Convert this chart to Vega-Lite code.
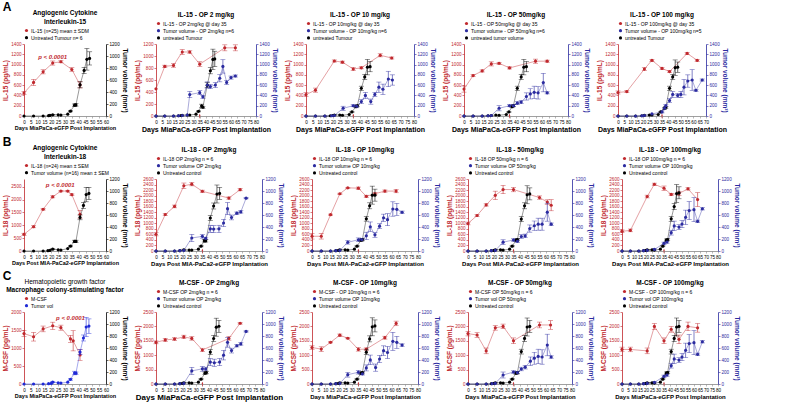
{
"$schema":"https://vega.github.io/schema/vega-lite/v6.json",
"padding":{"left":2,"right":2,"top":1,"bottom":1},
"background":"white",
"config":{
 "font":"Liberation Sans",
 "view":{"stroke":null},
 "concat":{"spacing":6},
 "axis":{"grid":false,"labelFontSize":4.6,"titleFontSize":6.5,"titleFontWeight":"bold","tickSize":2,"labelPadding":1,"titlePadding":2,"labelFlush":false,"labelOverlap":false,"domainWidth":0.8,"tickWidth":0.6},
 "axisLeft":{"domainColor":"#c0282d","tickColor":"#c0282d","labelColor":"#c0282d","titleColor":"#c0282d"},
 "axisRight":{"domainColor":"#2b2ba0","tickColor":"#2b2ba0","labelColor":"#2b2ba0","titleColor":"#2b2ba0"},
 "axisBottom":{"titleFontSize":6},
 "legend":{"orient":"top","direction":"vertical","labelFontSize":5,"symbolSize":10,"symbolType":"circle","symbolOpacity":1,"symbolStrokeWidth":0,"rowPadding":1.2,"padding":0,"offset":3,"labelLimit":200,"labelOffset":2},
 "title":{"fontSize":6.5,"fontWeight":"bold","offset":3,"subtitleFontSize":6.5,"subtitleFontWeight":"bold","subtitleColor":"#000","subtitlePadding":1}
},
"data":{"values":[
{"p":"A1","k":"c","d":0,"v":448,"e":30},{"p":"A1","k":"c","d":7,"v":653,"e":60},{"p":"A1","k":"c","d":14,"v":859,"e":40},{"p":"A1","k":"c","d":21,"v":1030,"e":40},{"p":"A1","k":"c","d":27,"v":1055,"e":20},{"p":"A1","k":"c","d":35,"v":905,"e":35},{"p":"A1","k":"c","d":41,"v":605,"e":60},
{"p":"A1","k":"u","d":0,"v":0},{"p":"A1","k":"u","d":7,"v":0},{"p":"A1","k":"u","d":14,"v":0},{"p":"A1","k":"u","d":18,"v":5},{"p":"A1","k":"u","d":19,"v":10},{"p":"A1","k":"u","d":21,"v":20,"e":5},{"p":"A1","k":"u","d":25,"v":20},{"p":"A1","k":"u","d":27,"v":15},{"p":"A1","k":"u","d":32,"v":30},{"p":"A1","k":"u","d":34,"v":80,"e":10},{"p":"A1","k":"u","d":37,"v":180,"e":20},{"p":"A1","k":"u","d":38,"v":185,"e":20},{"p":"A1","k":"u","d":41,"v":520,"e":50},{"p":"A1","k":"u","d":44,"v":760,"e":50},{"p":"A1","k":"u","d":46,"v":945,"e":180},{"p":"A1","k":"u","d":48,"v":960,"e":110},
{"p":"A1","k":"p","d":21,"v":1150,"lab":"p < 0.0001"},

{"p":"A2","k":"c","d":0,"v":453},{"p":"A2","k":"c","d":7,"v":827,"e":20},{"p":"A2","k":"c","d":14,"v":843,"e":30},{"p":"A2","k":"c","d":21,"v":1067,"e":40},{"p":"A2","k":"c","d":27,"v":1067,"e":20},{"p":"A2","k":"c","d":35,"v":864,"e":40},{"p":"A2","k":"c","d":55,"v":1136,"e":50},{"p":"A2","k":"c","d":63.5,"v":1136,"e":50},
{"p":"A2","k":"u","d":0,"v":0},{"p":"A2","k":"u","d":7,"v":0},{"p":"A2","k":"u","d":14,"v":0},{"p":"A2","k":"u","d":18,"v":5},{"p":"A2","k":"u","d":20,"v":10},{"p":"A2","k":"u","d":21,"v":15},{"p":"A2","k":"u","d":25,"v":20},{"p":"A2","k":"u","d":27,"v":20},{"p":"A2","k":"u","d":32,"v":35},{"p":"A2","k":"u","d":34,"v":90,"e":10},{"p":"A2","k":"u","d":36.5,"v":200,"e":30},{"p":"A2","k":"u","d":37.5,"v":170,"e":20},{"p":"A2","k":"u","d":41,"v":600,"e":50},{"p":"A2","k":"u","d":43.5,"v":880,"e":60},{"p":"A2","k":"u","d":45.5,"v":1100,"e":200},{"p":"A2","k":"u","d":47,"v":1110,"e":150},
{"p":"A2","k":"t","d":0,"v":0},{"p":"A2","k":"t","d":7,"v":0},{"p":"A2","k":"t","d":14,"v":0},{"p":"A2","k":"t","d":18,"v":5},{"p":"A2","k":"t","d":21,"v":10},{"p":"A2","k":"t","d":25,"v":20},{"p":"A2","k":"t","d":27,"v":417,"e":60},{"p":"A2","k":"t","d":35,"v":454,"e":40},{"p":"A2","k":"t","d":37.5,"v":373,"e":30},{"p":"A2","k":"t","d":41,"v":603,"e":60},{"p":"A2","k":"t","d":43.5,"v":572,"e":40},{"p":"A2","k":"t","d":47.5,"v":603,"e":50},{"p":"A2","k":"t","d":51,"v":734,"e":70},{"p":"A2","k":"t","d":53.5,"v":964,"e":130},{"p":"A2","k":"t","d":56.5,"v":653,"e":40},{"p":"A2","k":"t","d":60,"v":747,"e":30},{"p":"A2","k":"t","d":63.5,"v":778,"e":20},
{"p":"A2","k":"a","d":35,"v":0},

{"p":"A3","k":"c","d":0,"v":416,"e":40},{"p":"A3","k":"c","d":7,"v":503,"e":40},{"p":"A3","k":"c","d":21,"v":1070,"e":20},{"p":"A3","k":"c","d":27,"v":1047,"e":20},{"p":"A3","k":"c","d":35,"v":914,"e":30},{"p":"A3","k":"c","d":41,"v":937,"e":20},{"p":"A3","k":"c","d":55,"v":1180,"e":30},{"p":"A3","k":"c","d":63.5,"v":1128,"e":20},
{"p":"A3","k":"u","d":0,"v":0},{"p":"A3","k":"u","d":7,"v":0},{"p":"A3","k":"u","d":14,"v":0},{"p":"A3","k":"u","d":18,"v":5},{"p":"A3","k":"u","d":20,"v":10},{"p":"A3","k":"u","d":21,"v":20,"e":5},{"p":"A3","k":"u","d":25,"v":20},{"p":"A3","k":"u","d":27,"v":15},{"p":"A3","k":"u","d":32,"v":30},{"p":"A3","k":"u","d":34,"v":80,"e":10},{"p":"A3","k":"u","d":37,"v":180,"e":20},{"p":"A3","k":"u","d":38,"v":200,"e":20},{"p":"A3","k":"u","d":41,"v":540,"e":40},{"p":"A3","k":"u","d":43.5,"v":760,"e":50},{"p":"A3","k":"u","d":45.5,"v":950,"e":150},{"p":"A3","k":"u","d":47.5,"v":960,"e":100},
{"p":"A3","k":"t","d":0,"v":0},{"p":"A3","k":"t","d":7,"v":0},{"p":"A3","k":"t","d":14,"v":0},{"p":"A3","k":"t","d":19,"v":5},{"p":"A3","k":"t","d":21,"v":10},{"p":"A3","k":"t","d":27.5,"v":150,"e":40},{"p":"A3","k":"t","d":35,"v":200,"e":20},{"p":"A3","k":"t","d":37.5,"v":190,"e":20},{"p":"A3","k":"t","d":41,"v":280,"e":40},{"p":"A3","k":"t","d":44,"v":400,"e":60},{"p":"A3","k":"t","d":48,"v":280,"e":50},{"p":"A3","k":"t","d":51,"v":420,"e":40},{"p":"A3","k":"t","d":54,"v":560,"e":100},{"p":"A3","k":"t","d":57,"v":520,"e":100},{"p":"A3","k":"t","d":61,"v":720,"e":150},{"p":"A3","k":"t","d":64,"v":700,"e":100},
{"p":"A3","k":"a","d":35,"v":0},

{"p":"A4","k":"c","d":0,"v":524,"e":60},{"p":"A4","k":"c","d":7,"v":786,"e":20},{"p":"A4","k":"c","d":14,"v":876,"e":20},{"p":"A4","k":"c","d":21,"v":1013,"e":40},{"p":"A4","k":"c","d":27,"v":1025,"e":20},{"p":"A4","k":"c","d":35,"v":935,"e":20},{"p":"A4","k":"c","d":55,"v":1066,"e":40},{"p":"A4","k":"c","d":64,"v":1066,"e":20},
{"p":"A4","k":"u","d":0,"v":0},{"p":"A4","k":"u","d":7,"v":0},{"p":"A4","k":"u","d":14,"v":0},{"p":"A4","k":"u","d":18.5,"v":5},{"p":"A4","k":"u","d":21,"v":10},{"p":"A4","k":"u","d":24.5,"v":20},{"p":"A4","k":"u","d":27,"v":15},{"p":"A4","k":"u","d":32.5,"v":30},{"p":"A4","k":"u","d":34.5,"v":80,"e":10},{"p":"A4","k":"u","d":37,"v":180,"e":20},{"p":"A4","k":"u","d":38,"v":200,"e":20},{"p":"A4","k":"u","d":41,"v":540,"e":40},{"p":"A4","k":"u","d":44,"v":760,"e":50},{"p":"A4","k":"u","d":46,"v":950,"e":150},{"p":"A4","k":"u","d":48,"v":960,"e":100},
{"p":"A4","k":"t","d":0,"v":0},{"p":"A4","k":"t","d":7,"v":0},{"p":"A4","k":"t","d":14,"v":0},{"p":"A4","k":"t","d":18.5,"v":5},{"p":"A4","k":"t","d":21,"v":10},{"p":"A4","k":"t","d":27,"v":150,"e":50},{"p":"A4","k":"t","d":35,"v":200,"e":20},{"p":"A4","k":"t","d":38,"v":200,"e":20},{"p":"A4","k":"t","d":41,"v":250,"e":30},{"p":"A4","k":"t","d":44,"v":270,"e":30},{"p":"A4","k":"t","d":48,"v":380,"e":70},{"p":"A4","k":"t","d":51,"v":430,"e":100},{"p":"A4","k":"t","d":54,"v":460,"e":120},{"p":"A4","k":"t","d":57,"v":450,"e":120},{"p":"A4","k":"t","d":61,"v":650,"e":180},{"p":"A4","k":"t","d":64,"v":450,"e":20},
{"p":"A4","k":"a","d":35,"v":0},

{"p":"A5","k":"c","d":0,"v":457,"e":30},{"p":"A5","k":"c","d":7,"v":475,"e":20},{"p":"A5","k":"c","d":21,"v":913,"e":30},{"p":"A5","k":"c","d":27,"v":1083,"e":20},{"p":"A5","k":"c","d":35,"v":925,"e":20},{"p":"A5","k":"c","d":41,"v":864,"e":20},{"p":"A5","k":"c","d":55,"v":1217,"e":20},{"p":"A5","k":"c","d":63,"v":1083,"e":20},
{"p":"A5","k":"u","d":0,"v":0},{"p":"A5","k":"u","d":7,"v":0},{"p":"A5","k":"u","d":14,"v":0},{"p":"A5","k":"u","d":19,"v":5},{"p":"A5","k":"u","d":21,"v":15},{"p":"A5","k":"u","d":25,"v":20},{"p":"A5","k":"u","d":27,"v":20},{"p":"A5","k":"u","d":32,"v":30},{"p":"A5","k":"u","d":34,"v":80,"e":10},{"p":"A5","k":"u","d":37,"v":150,"e":20},{"p":"A5","k":"u","d":38,"v":170,"e":20},{"p":"A5","k":"u","d":41,"v":540,"e":40},{"p":"A5","k":"u","d":43.5,"v":760,"e":50},{"p":"A5","k":"u","d":45.5,"v":940,"e":150},{"p":"A5","k":"u","d":47.5,"v":950,"e":100},
{"p":"A5","k":"t","d":0,"v":0},{"p":"A5","k":"t","d":7,"v":0},{"p":"A5","k":"t","d":14,"v":0},{"p":"A5","k":"t","d":19,"v":5},{"p":"A5","k":"t","d":21,"v":10},{"p":"A5","k":"t","d":27,"v":40},{"p":"A5","k":"t","d":35,"v":80,"e":20},{"p":"A5","k":"t","d":37,"v":150},{"p":"A5","k":"t","d":38,"v":200,"e":20},{"p":"A5","k":"t","d":41,"v":300,"e":40},{"p":"A5","k":"t","d":43.5,"v":420,"e":60},{"p":"A5","k":"t","d":47.5,"v":400,"e":40},{"p":"A5","k":"t","d":50,"v":420,"e":60},{"p":"A5","k":"t","d":52.5,"v":560,"e":150},{"p":"A5","k":"t","d":55.5,"v":680,"e":120},{"p":"A5","k":"t","d":59,"v":700,"e":200},{"p":"A5","k":"t","d":62,"v":500,"e":20},{"p":"A5","k":"t","d":67,"v":700,"e":20},
{"p":"A5","k":"a","d":35,"v":0},

{"p":"B1","k":"c","d":0,"v":651,"e":40},{"p":"B1","k":"c","d":7,"v":943,"e":40},{"p":"B1","k":"c","d":14,"v":1622,"e":30},{"p":"B1","k":"c","d":21,"v":2107,"e":40},{"p":"B1","k":"c","d":27,"v":2330,"e":30},{"p":"B1","k":"c","d":32,"v":2330,"e":30},{"p":"B1","k":"c","d":35,"v":2190,"e":30},{"p":"B1","k":"c","d":41,"v":1428,"e":150},
{"p":"B1","k":"u","d":0,"v":0},{"p":"B1","k":"u","d":7,"v":0},{"p":"B1","k":"u","d":14,"v":0},{"p":"B1","k":"u","d":17.5,"v":5},{"p":"B1","k":"u","d":19,"v":10},{"p":"B1","k":"u","d":21,"v":30,"e":10},{"p":"B1","k":"u","d":25,"v":20},{"p":"B1","k":"u","d":27,"v":15},{"p":"B1","k":"u","d":32,"v":40},{"p":"B1","k":"u","d":34,"v":80,"e":10},{"p":"B1","k":"u","d":37,"v":160,"e":20},{"p":"B1","k":"u","d":38,"v":160,"e":20},{"p":"B1","k":"u","d":41,"v":560,"e":40},{"p":"B1","k":"u","d":43.5,"v":760,"e":50},{"p":"B1","k":"u","d":45.5,"v":940,"e":120},{"p":"B1","k":"u","d":47.5,"v":960,"e":100},
{"p":"B1","k":"p","d":26.5,"v":2560,"lab":"p < 0.0001"},

{"p":"B2","k":"c","d":0,"v":606,"e":60},{"p":"B2","k":"c","d":7,"v":1317,"e":30},{"p":"B2","k":"c","d":14,"v":1609,"e":50},{"p":"B2","k":"c","d":21,"v":2355,"e":100},{"p":"B2","k":"c","d":27,"v":2413,"e":60},{"p":"B2","k":"c","d":35,"v":2157,"e":40},{"p":"B2","k":"c","d":55,"v":1912,"e":40},{"p":"B2","k":"c","d":63.5,"v":2215,"e":40},
{"p":"B2","k":"u","d":0,"v":0},{"p":"B2","k":"u","d":7,"v":0},{"p":"B2","k":"u","d":14,"v":0},{"p":"B2","k":"u","d":18,"v":5},{"p":"B2","k":"u","d":21,"v":20,"e":10},{"p":"B2","k":"u","d":25,"v":15},{"p":"B2","k":"u","d":27,"v":15},{"p":"B2","k":"u","d":32,"v":30},{"p":"B2","k":"u","d":34,"v":80,"e":10},{"p":"B2","k":"u","d":36.5,"v":170,"e":20},{"p":"B2","k":"u","d":37.5,"v":170,"e":20},{"p":"B2","k":"u","d":41,"v":550,"e":40},{"p":"B2","k":"u","d":43.5,"v":750,"e":50},{"p":"B2","k":"u","d":46,"v":950,"e":150},{"p":"B2","k":"u","d":48,"v":960,"e":100},
{"p":"B2","k":"t","d":0,"v":0},{"p":"B2","k":"t","d":7,"v":0},{"p":"B2","k":"t","d":14,"v":0},{"p":"B2","k":"t","d":18,"v":5},{"p":"B2","k":"t","d":21,"v":10},{"p":"B2","k":"t","d":27,"v":217,"e":60},{"p":"B2","k":"t","d":35,"v":244,"e":30},{"p":"B2","k":"t","d":37.5,"v":210,"e":20},{"p":"B2","k":"t","d":41,"v":369,"e":60},{"p":"B2","k":"t","d":43.5,"v":365,"e":60},{"p":"B2","k":"t","d":47.5,"v":369,"e":60},{"p":"B2","k":"t","d":51,"v":467,"e":60},{"p":"B2","k":"t","d":54,"v":706,"e":100},{"p":"B2","k":"t","d":57,"v":559,"e":40},{"p":"B2","k":"t","d":61,"v":630,"e":20},{"p":"B2","k":"t","d":64,"v":652,"e":20},{"p":"B2","k":"t","d":68,"v":880,"e":10},
{"p":"B2","k":"a","d":35,"v":0},

{"p":"B3","k":"c","d":0,"v":532,"e":100},{"p":"B3","k":"c","d":7,"v":532,"e":100},{"p":"B3","k":"c","d":14,"v":1312,"e":20},{"p":"B3","k":"c","d":21,"v":2068,"e":20},{"p":"B3","k":"c","d":27,"v":2281,"e":20},{"p":"B3","k":"c","d":35,"v":2269,"e":40},{"p":"B3","k":"c","d":41,"v":1974,"e":40},{"p":"B3","k":"c","d":47.5,"v":2068,"e":40},{"p":"B3","k":"c","d":55,"v":2163,"e":40},{"p":"B3","k":"c","d":63.5,"v":2163,"e":60},
{"p":"B3","k":"u","d":0,"v":0},{"p":"B3","k":"u","d":7,"v":0},{"p":"B3","k":"u","d":14,"v":0},{"p":"B3","k":"u","d":18,"v":5},{"p":"B3","k":"u","d":20,"v":10},{"p":"B3","k":"u","d":21,"v":20,"e":5},{"p":"B3","k":"u","d":25,"v":20},{"p":"B3","k":"u","d":27,"v":15},{"p":"B3","k":"u","d":32,"v":30},{"p":"B3","k":"u","d":34,"v":80,"e":10},{"p":"B3","k":"u","d":37,"v":180,"e":20},{"p":"B3","k":"u","d":38,"v":190,"e":20},{"p":"B3","k":"u","d":41,"v":538,"e":40},{"p":"B3","k":"u","d":43.5,"v":753,"e":50},{"p":"B3","k":"u","d":45.5,"v":931,"e":150},{"p":"B3","k":"u","d":47.5,"v":931,"e":100},
{"p":"B3","k":"t","d":0,"v":0},{"p":"B3","k":"t","d":7,"v":0},{"p":"B3","k":"t","d":14,"v":0},{"p":"B3","k":"t","d":18,"v":5},{"p":"B3","k":"t","d":21,"v":10},{"p":"B3","k":"t","d":27,"v":145,"e":30},{"p":"B3","k":"t","d":35,"v":188,"e":30},{"p":"B3","k":"t","d":37.5,"v":190,"e":20},{"p":"B3","k":"t","d":41,"v":253,"e":60},{"p":"B3","k":"t","d":44,"v":404,"e":80},{"p":"B3","k":"t","d":47.5,"v":269,"e":40},{"p":"B3","k":"t","d":51,"v":414,"e":40},{"p":"B3","k":"t","d":54,"v":554,"e":60},{"p":"B3","k":"t","d":57,"v":522,"e":100},{"p":"B3","k":"t","d":61,"v":700,"e":120},{"p":"B3","k":"t","d":64,"v":694,"e":100},{"p":"B3","k":"t","d":68,"v":646,"e":20},
{"p":"B3","k":"a","d":35,"v":0},

{"p":"B4","k":"c","d":0,"v":994,"e":50},{"p":"B4","k":"c","d":7,"v":1283,"e":30},{"p":"B4","k":"c","d":14,"v":1664,"e":40},{"p":"B4","k":"c","d":21,"v":2011,"e":150},{"p":"B4","k":"c","d":27,"v":2219,"e":150},{"p":"B4","k":"c","d":35,"v":2219,"e":80},{"p":"B4","k":"c","d":55,"v":1930,"e":60},{"p":"B4","k":"c","d":61,"v":1768,"e":80},{"p":"B4","k":"c","d":64,"v":1652,"e":200},
{"p":"B4","k":"u","d":0,"v":0},{"p":"B4","k":"u","d":7,"v":0},{"p":"B4","k":"u","d":14,"v":0},{"p":"B4","k":"u","d":18,"v":5},{"p":"B4","k":"u","d":20,"v":10},{"p":"B4","k":"u","d":21,"v":20,"e":5},{"p":"B4","k":"u","d":25,"v":20},{"p":"B4","k":"u","d":27,"v":15},{"p":"B4","k":"u","d":32,"v":30},{"p":"B4","k":"u","d":34,"v":80,"e":10},{"p":"B4","k":"u","d":37,"v":180,"e":20},{"p":"B4","k":"u","d":38,"v":190,"e":20},{"p":"B4","k":"u","d":41,"v":532,"e":40},{"p":"B4","k":"u","d":43.5,"v":753,"e":50},{"p":"B4","k":"u","d":45.5,"v":937,"e":150},{"p":"B4","k":"u","d":47.5,"v":952,"e":100},
{"p":"B4","k":"t","d":0,"v":0},{"p":"B4","k":"t","d":7,"v":0},{"p":"B4","k":"t","d":14,"v":0},{"p":"B4","k":"t","d":18,"v":5},{"p":"B4","k":"t","d":21,"v":10},{"p":"B4","k":"t","d":27,"v":147,"e":40},{"p":"B4","k":"t","d":35,"v":184,"e":20},{"p":"B4","k":"t","d":38,"v":163,"e":20},{"p":"B4","k":"t","d":41,"v":242,"e":30},{"p":"B4","k":"t","d":44,"v":252,"e":30},{"p":"B4","k":"t","d":47.5,"v":374,"e":60},{"p":"B4","k":"t","d":51,"v":421,"e":80},{"p":"B4","k":"t","d":54,"v":447,"e":100},{"p":"B4","k":"t","d":57,"v":447,"e":100},{"p":"B4","k":"t","d":61,"v":647,"e":150},{"p":"B4","k":"t","d":64,"v":447,"e":20},
{"p":"B4","k":"a","d":35,"v":0},

{"p":"B5","k":"c","d":0,"v":711,"e":50},{"p":"B5","k":"c","d":7,"v":744,"e":50},{"p":"B5","k":"c","d":21,"v":1967,"e":50},{"p":"B5","k":"c","d":27,"v":2411,"e":40},{"p":"B5","k":"c","d":35,"v":2267,"e":80},{"p":"B5","k":"c","d":41,"v":2044,"e":40},{"p":"B5","k":"c","d":47.5,"v":2078,"e":80},{"p":"B5","k":"c","d":55,"v":2244,"e":40},{"p":"B5","k":"c","d":63,"v":1856,"e":250},
{"p":"B5","k":"u","d":0,"v":0},{"p":"B5","k":"u","d":7,"v":0},{"p":"B5","k":"u","d":14,"v":0},{"p":"B5","k":"u","d":18,"v":5},{"p":"B5","k":"u","d":20,"v":10},{"p":"B5","k":"u","d":21,"v":20,"e":5},{"p":"B5","k":"u","d":25,"v":20},{"p":"B5","k":"u","d":27,"v":15},{"p":"B5","k":"u","d":32,"v":30},{"p":"B5","k":"u","d":34,"v":80,"e":10},{"p":"B5","k":"u","d":37,"v":180,"e":20},{"p":"B5","k":"u","d":38,"v":190,"e":20},{"p":"B5","k":"u","d":41,"v":536,"e":40},{"p":"B5","k":"u","d":43.5,"v":740,"e":50},{"p":"B5","k":"u","d":45.5,"v":957,"e":150},{"p":"B5","k":"u","d":47.5,"v":970,"e":100},
{"p":"B5","k":"t","d":0,"v":0},{"p":"B5","k":"t","d":7,"v":0},{"p":"B5","k":"t","d":14,"v":0},{"p":"B5","k":"t","d":18,"v":5},{"p":"B5","k":"t","d":21,"v":10},{"p":"B5","k":"t","d":27,"v":26,"e":10},{"p":"B5","k":"t","d":35,"v":128,"e":20},{"p":"B5","k":"t","d":37.5,"v":150,"e":20},{"p":"B5","k":"t","d":41,"v":306,"e":40},{"p":"B5","k":"t","d":43.5,"v":418,"e":80},{"p":"B5","k":"t","d":47.5,"v":398,"e":40},{"p":"B5","k":"t","d":50,"v":449,"e":60},{"p":"B5","k":"t","d":53,"v":561,"e":120},{"p":"B5","k":"t","d":56,"v":673,"e":150},{"p":"B5","k":"t","d":60,"v":689,"e":200},{"p":"B5","k":"t","d":63,"v":495,"e":20},{"p":"B5","k":"t","d":67,"v":704,"e":20},
{"p":"B5","k":"a","d":35,"v":0},

{"p":"C1","k":"c","d":0,"v":1400,"e":80},{"p":"C1","k":"c","d":7,"v":1313,"e":120},{"p":"C1","k":"c","d":14,"v":1530,"e":80},{"p":"C1","k":"c","d":21,"v":1617,"e":100},{"p":"C1","k":"c","d":27,"v":1565,"e":70},{"p":"C1","k":"c","d":34,"v":1252,"e":100},{"p":"C1","k":"c","d":36,"v":1200,"e":280},{"p":"C1","k":"c","d":41,"v":809,"e":150},
{"p":"C1","k":"t","d":0,"v":0},{"p":"C1","k":"t","d":7,"v":0},{"p":"C1","k":"t","d":14,"v":0},{"p":"C1","k":"t","d":18,"v":5},{"p":"C1","k":"t","d":20,"v":10},{"p":"C1","k":"t","d":21,"v":31,"e":10},{"p":"C1","k":"t","d":25,"v":20},{"p":"C1","k":"t","d":27,"v":15},{"p":"C1","k":"t","d":32,"v":30},{"p":"C1","k":"t","d":34,"v":78,"e":15},{"p":"C1","k":"t","d":37,"v":183,"e":30},{"p":"C1","k":"t","d":38,"v":180,"e":20},{"p":"C1","k":"t","d":41,"v":532,"e":40},{"p":"C1","k":"t","d":43.5,"v":767,"e":50},{"p":"C1","k":"t","d":45.5,"v":950,"e":160},{"p":"C1","k":"t","d":47.5,"v":965,"e":120},
{"p":"C1","k":"p","d":34,"v":1830,"lab":"p < 0.0001"},

{"p":"C2","k":"c","d":0,"v":1445,"e":50},{"p":"C2","k":"c","d":7,"v":1530,"e":50},{"p":"C2","k":"c","d":14,"v":1561,"e":50},{"p":"C2","k":"c","d":21,"v":1635,"e":60},{"p":"C2","k":"c","d":27,"v":1582,"e":60},{"p":"C2","k":"c","d":35,"v":1181,"e":60},{"p":"C2","k":"c","d":55,"v":1582,"e":60},{"p":"C2","k":"c","d":63.5,"v":2110,"e":30},
{"p":"C2","k":"u","d":0,"v":0},{"p":"C2","k":"u","d":7,"v":0},{"p":"C2","k":"u","d":14,"v":0},{"p":"C2","k":"u","d":18,"v":5},{"p":"C2","k":"u","d":20,"v":10},{"p":"C2","k":"u","d":21,"v":20,"e":5},{"p":"C2","k":"u","d":25,"v":20},{"p":"C2","k":"u","d":27,"v":15},{"p":"C2","k":"u","d":32,"v":30},{"p":"C2","k":"u","d":34,"v":80,"e":10},{"p":"C2","k":"u","d":37,"v":180,"e":20},{"p":"C2","k":"u","d":38,"v":190,"e":20},{"p":"C2","k":"u","d":41,"v":532,"e":40},{"p":"C2","k":"u","d":43.5,"v":759,"e":50},{"p":"C2","k":"u","d":45.5,"v":947,"e":150},{"p":"C2","k":"u","d":47.5,"v":962,"e":100},
{"p":"C2","k":"t","d":0,"v":0},{"p":"C2","k":"t","d":7,"v":0},{"p":"C2","k":"t","d":14,"v":0},{"p":"C2","k":"t","d":18,"v":5},{"p":"C2","k":"t","d":21,"v":10},{"p":"C2","k":"t","d":27,"v":218,"e":60},{"p":"C2","k":"t","d":35,"v":253,"e":40},{"p":"C2","k":"t","d":37.5,"v":250,"e":30},{"p":"C2","k":"t","d":41,"v":365,"e":60},{"p":"C2","k":"t","d":44,"v":354,"e":60},{"p":"C2","k":"t","d":48,"v":365,"e":60},{"p":"C2","k":"t","d":51,"v":481,"e":80},{"p":"C2","k":"t","d":54,"v":694,"e":80},{"p":"C2","k":"t","d":57,"v":557,"e":40},{"p":"C2","k":"t","d":61,"v":638,"e":20},{"p":"C2","k":"t","d":64,"v":668,"e":20},{"p":"C2","k":"t","d":68,"v":876,"e":10},
{"p":"C2","k":"a","d":35,"v":0},

{"p":"C3","k":"c","d":0,"v":1266,"e":60},{"p":"C3","k":"c","d":7,"v":1212,"e":80},{"p":"C3","k":"c","d":14,"v":1448,"e":20},{"p":"C3","k":"c","d":21,"v":1695,"e":40},{"p":"C3","k":"c","d":27,"v":1588,"e":20},{"p":"C3","k":"c","d":35,"v":1202,"e":60},{"p":"C3","k":"c","d":41,"v":1212,"e":40},{"p":"C3","k":"c","d":55,"v":1609,"e":50},{"p":"C3","k":"c","d":63.5,"v":2103,"e":80},
{"p":"C3","k":"u","d":0,"v":0},{"p":"C3","k":"u","d":7,"v":0},{"p":"C3","k":"u","d":14,"v":0},{"p":"C3","k":"u","d":18,"v":5},{"p":"C3","k":"u","d":20,"v":10},{"p":"C3","k":"u","d":21,"v":20,"e":5},{"p":"C3","k":"u","d":25,"v":20},{"p":"C3","k":"u","d":27,"v":15},{"p":"C3","k":"u","d":32,"v":30},{"p":"C3","k":"u","d":34,"v":80,"e":10},{"p":"C3","k":"u","d":37,"v":180,"e":20},{"p":"C3","k":"u","d":38,"v":190,"e":20},{"p":"C3","k":"u","d":41,"v":530,"e":40},{"p":"C3","k":"u","d":43.5,"v":752,"e":50},{"p":"C3","k":"u","d":45.5,"v":953,"e":150},{"p":"C3","k":"u","d":47.5,"v":968,"e":100},
{"p":"C3","k":"t","d":0,"v":0},{"p":"C3","k":"t","d":7,"v":0},{"p":"C3","k":"t","d":14,"v":0},{"p":"C3","k":"t","d":18,"v":5},{"p":"C3","k":"t","d":21,"v":10},{"p":"C3","k":"t","d":27,"v":155,"e":40},{"p":"C3","k":"t","d":35,"v":196,"e":30},{"p":"C3","k":"t","d":38,"v":170,"e":20},{"p":"C3","k":"t","d":41,"v":268,"e":50},{"p":"C3","k":"t","d":44,"v":402,"e":80},{"p":"C3","k":"t","d":48,"v":273,"e":60},{"p":"C3","k":"t","d":51,"v":417,"e":60},{"p":"C3","k":"t","d":54,"v":556,"e":80},{"p":"C3","k":"t","d":57,"v":525,"e":100},{"p":"C3","k":"t","d":61,"v":711,"e":150},{"p":"C3","k":"t","d":64,"v":695,"e":100},{"p":"C3","k":"t","d":68,"v":649,"e":20},
{"p":"C3","k":"a","d":35,"v":0},

{"p":"C4","k":"c","d":0,"v":1750,"e":80},{"p":"C4","k":"c","d":7,"v":1700,"e":80},{"p":"C4","k":"c","d":14,"v":1150,"e":100},{"p":"C4","k":"c","d":21,"v":1950,"e":80},{"p":"C4","k":"c","d":27,"v":2000,"e":80},{"p":"C4","k":"c","d":35,"v":1500,"e":100},{"p":"C4","k":"c","d":55,"v":2050,"e":100},{"p":"C4","k":"c","d":63.5,"v":2050,"e":150},
{"p":"C4","k":"u","d":0,"v":0},{"p":"C4","k":"u","d":7,"v":0},{"p":"C4","k":"u","d":14,"v":0},{"p":"C4","k":"u","d":18,"v":5},{"p":"C4","k":"u","d":20,"v":10},{"p":"C4","k":"u","d":21,"v":20,"e":5},{"p":"C4","k":"u","d":25,"v":20},{"p":"C4","k":"u","d":27,"v":15},{"p":"C4","k":"u","d":32,"v":30},{"p":"C4","k":"u","d":34,"v":80,"e":10},{"p":"C4","k":"u","d":37,"v":180,"e":20},{"p":"C4","k":"u","d":38,"v":190,"e":20},{"p":"C4","k":"u","d":41,"v":540,"e":40},{"p":"C4","k":"u","d":43.5,"v":760,"e":50},{"p":"C4","k":"u","d":45.5,"v":950,"e":150},{"p":"C4","k":"u","d":47.5,"v":960,"e":100},
{"p":"C4","k":"t","d":0,"v":0},{"p":"C4","k":"t","d":7,"v":0},{"p":"C4","k":"t","d":14,"v":0},{"p":"C4","k":"t","d":18.5,"v":5},{"p":"C4","k":"t","d":21,"v":10},{"p":"C4","k":"t","d":27,"v":150,"e":50},{"p":"C4","k":"t","d":35,"v":200,"e":20},{"p":"C4","k":"t","d":38,"v":190,"e":20},{"p":"C4","k":"t","d":41,"v":250,"e":30},{"p":"C4","k":"t","d":44,"v":280,"e":30},{"p":"C4","k":"t","d":48,"v":380,"e":70},{"p":"C4","k":"t","d":51,"v":430,"e":100},{"p":"C4","k":"t","d":54,"v":460,"e":120},{"p":"C4","k":"t","d":57,"v":450,"e":120},{"p":"C4","k":"t","d":61,"v":650,"e":180},{"p":"C4","k":"t","d":64,"v":450,"e":20},
{"p":"C4","k":"a","d":35,"v":0},

{"p":"C5","k":"c","d":0,"v":1200,"e":80},{"p":"C5","k":"c","d":7,"v":1200,"e":80},{"p":"C5","k":"c","d":21,"v":1150,"e":100},{"p":"C5","k":"c","d":27,"v":2000,"e":100},{"p":"C5","k":"c","d":35,"v":1500,"e":100},{"p":"C5","k":"c","d":41,"v":1900,"e":100},{"p":"C5","k":"c","d":47.5,"v":1550,"e":150},{"p":"C5","k":"c","d":55,"v":2000,"e":150},{"p":"C5","k":"c","d":63,"v":1950,"e":150},
{"p":"C5","k":"u","d":0,"v":0},{"p":"C5","k":"u","d":7,"v":0},{"p":"C5","k":"u","d":14,"v":0},{"p":"C5","k":"u","d":18,"v":5},{"p":"C5","k":"u","d":20,"v":10},{"p":"C5","k":"u","d":21,"v":20,"e":5},{"p":"C5","k":"u","d":25,"v":20},{"p":"C5","k":"u","d":27,"v":15},{"p":"C5","k":"u","d":32,"v":30},{"p":"C5","k":"u","d":34,"v":80,"e":10},{"p":"C5","k":"u","d":37,"v":180,"e":20},{"p":"C5","k":"u","d":38,"v":190,"e":20},{"p":"C5","k":"u","d":41,"v":540,"e":40},{"p":"C5","k":"u","d":43.5,"v":760,"e":50},{"p":"C5","k":"u","d":45.5,"v":950,"e":150},{"p":"C5","k":"u","d":47.5,"v":960,"e":100},
{"p":"C5","k":"t","d":0,"v":0},{"p":"C5","k":"t","d":7,"v":0},{"p":"C5","k":"t","d":14,"v":0},{"p":"C5","k":"t","d":18,"v":5},{"p":"C5","k":"t","d":21,"v":10},{"p":"C5","k":"t","d":27,"v":26,"e":10},{"p":"C5","k":"t","d":35,"v":128,"e":20},{"p":"C5","k":"t","d":37.5,"v":150,"e":20},{"p":"C5","k":"t","d":41,"v":306,"e":40},{"p":"C5","k":"t","d":43.5,"v":418,"e":80},{"p":"C5","k":"t","d":47.5,"v":398,"e":40},{"p":"C5","k":"t","d":50,"v":449,"e":60},{"p":"C5","k":"t","d":53,"v":561,"e":120},{"p":"C5","k":"t","d":56,"v":673,"e":150},{"p":"C5","k":"t","d":60,"v":689,"e":200},{"p":"C5","k":"t","d":63,"v":495,"e":20},{"p":"C5","k":"t","d":67,"v":704,"e":20},
{"p":"C5","k":"a","d":35,"v":0}
]},
"spacing":3,
"resolve":{"scale":{"color":"independent","x":"independent","y":"independent"}},
"vconcat":[
{"title":{"text":"A","anchor":"start","fontSize":12,"offset":-4},
 "resolve":{"scale":{"color":"independent","x":"independent","y":"independent"}},
 "hconcat":[
 {"width":82,"height":72,"title":{"text":["Angiogenic Cytokine","Interleukin-15"]},
  "transform":[{"filter":"datum.p=='A1'"}],
  "encoding":{"x":{"field":"d","type":"quantitative","scale":{"domain":[0,60]},"axis":{"title":"Days MiaPaCa-eGFP Post Implantation","tickCount":12,"titleFontSize":5.5}},
   "color":{"field":"k","type":"nominal","scale":{"domain":["c","u"],"range":["#c0282d","#000000"]},"legend":{"title":null,"labelExpr":"datum.label=='c'?'IL-15 (n=25) mean ± SDM':'Untreated Tumour n= 6'"}}},
  "layer":[
   {"transform":[{"filter":"datum.k!='t'&&datum.k!='u'"}],
    "encoding":{"y":{"field":"v","type":"quantitative","scale":{"domain":[0,1400]},"axis":{"orient":"left","title":"IL-15 (pg/mL)","tickCount":7,"format":"d"}}},
    "layer":[
     {"transform":[{"filter":"datum.k=='c'"}],"mark":{"type":"line","opacity":0.55,"strokeWidth":0.8}},
     {"transform":[{"filter":"datum.k=='c'"}],"mark":{"type":"errorbar","ticks":true,"thickness":0.6},"encoding":{"yError":{"field":"e"}}},
     {"transform":[{"filter":"datum.k=='c'"}],"mark":{"type":"point","filled":true,"size":10,"opacity":1}},
     {"transform":[{"filter":"datum.k=='p'"}],"mark":{"type":"text","fontSize":6,"fontWeight":"bold","fontStyle":"italic"},"encoding":{"text":{"field":"lab"},"color":{"value":"#c0282d"}}}
    ]},
   {"transform":[{"filter":"datum.k=='t'||datum.k=='u'"}],
    "encoding":{"y":{"field":"v","type":"quantitative","scale":{"domain":[0,1200]},"axis":{"orient":"right","title":"Tumor volume (mm³)","tickCount":6,"format":"d","domainColor":"#000","tickColor":"#000","labelColor":"#000","titleColor":"#000"}}},
    "layer":[
     {"mark":{"type":"line","opacity":0.5,"strokeWidth":0.8}},
     {"mark":{"type":"errorbar","ticks":true,"thickness":0.6},"encoding":{"yError":{"field":"e"}}},
     {"mark":{"type":"point","filled":true,"size":10,"opacity":1}}
    ]}
  ],
  "resolve":{"scale":{"y":"independent"}}},

 {"width":100,"height":72,"title":{"text":"IL-15 - OP 2 mg/kg"},
  "transform":[{"filter":"datum.p=='A2'"}],
  "encoding":{"x":{"field":"d","type":"quantitative","scale":{"domain":[0,80]},"axis":{"title":"Days MiaPaCa-eGFP Post Implantation","tickCount":16,"titleFontSize":7}},
   "color":{"field":"k","type":"nominal","scale":{"domain":["c","t","u"],"range":["#c0282d","#2b2ba0","#000000"]},"legend":{"title":null,"labelExpr":"datum.label=='c'?'IL-15 - OP 2mg/kg @ day 35':datum.label=='t'?'Tumor volume - OP 2mg/kg n=6':'untreated Tumour'"}}},
  "layer":[
   {"transform":[{"filter":"datum.k!='t'&&datum.k!='u'"}],
    "encoding":{"y":{"field":"v","type":"quantitative","scale":{"domain":[0,1200]},"axis":{"orient":"left","title":"IL-15 (pg/mL)","tickCount":6,"format":"d"}}},
    "layer":[
     {"transform":[{"filter":"datum.k=='c'"}],"mark":{"type":"line","opacity":0.55,"strokeWidth":0.8}},
     {"transform":[{"filter":"datum.k=='c'"}],"mark":{"type":"errorbar","ticks":true,"thickness":0.6},"encoding":{"yError":{"field":"e"}}},
     {"transform":[{"filter":"datum.k=='c'"}],"mark":{"type":"point","filled":true,"size":10,"opacity":1}},
     {"transform":[{"filter":"datum.k=='a'"}],"mark":{"type":"point","shape":"arrow","filled":true,"size":20,"opacity":1},"encoding":{"color":{"value":"#c0282d"}}}
    ]},
   {"transform":[{"filter":"datum.k=='t'||datum.k=='u'"}],
    "encoding":{"y":{"field":"v","type":"quantitative","scale":{"domain":[0,1400]},"axis":{"orient":"right","title":"Tumor volume (mm³)","tickCount":7,"format":"d"}}},
    "layer":[
     {"mark":{"type":"line","opacity":0.5,"strokeWidth":0.8}},
     {"mark":{"type":"errorbar","ticks":true,"thickness":0.6},"encoding":{"yError":{"field":"e"}}},
     {"mark":{"type":"point","filled":true,"size":10,"opacity":1}}
    ]}
  ],
  "resolve":{"scale":{"y":"independent"}}},

 {"width":108,"height":72,"title":{"text":"IL-15 - OP 10 mg/kg"},
  "transform":[{"filter":"datum.p=='A3'"}],
  "encoding":{"x":{"field":"d","type":"quantitative","scale":{"domain":[0,80]},"axis":{"title":"Days MiaPaCa-eGFP Post Implantation","tickCount":16,"titleFontSize":7}},
   "color":{"field":"k","type":"nominal","scale":{"domain":["c","t","u"],"range":["#c0282d","#2b2ba0","#000000"]},"legend":{"title":null,"labelExpr":"datum.label=='c'?'IL-15 - OP 10mg/kg @ day 35':datum.label=='t'?'Tumor volume - OP 10mg/kg n=6':'untreated Tumour'"}}},
  "layer":[
   {"transform":[{"filter":"datum.k!='t'&&datum.k!='u'"}],
    "encoding":{"y":{"field":"v","type":"quantitative","scale":{"domain":[0,1400]},"axis":{"orient":"left","title":"IL-15 (pg/mL)","tickCount":7,"format":"d"}}},
    "layer":[
     {"transform":[{"filter":"datum.k=='c'"}],"mark":{"type":"line","opacity":0.55,"strokeWidth":0.8}},
     {"transform":[{"filter":"datum.k=='c'"}],"mark":{"type":"errorbar","ticks":true,"thickness":0.6},"encoding":{"yError":{"field":"e"}}},
     {"transform":[{"filter":"datum.k=='c'"}],"mark":{"type":"point","filled":true,"size":10,"opacity":1}},
     {"transform":[{"filter":"datum.k=='a'"}],"mark":{"type":"point","shape":"arrow","filled":true,"size":20,"opacity":1},"encoding":{"color":{"value":"#c0282d"}}}
    ]},
   {"transform":[{"filter":"datum.k=='t'||datum.k=='u'"}],
    "encoding":{"y":{"field":"v","type":"quantitative","scale":{"domain":[0,1400]},"axis":{"orient":"right","title":"Tumor volume (mm³)","tickCount":7,"format":"d"}}},
    "layer":[
     {"mark":{"type":"line","opacity":0.5,"strokeWidth":0.8}},
     {"mark":{"type":"errorbar","ticks":true,"thickness":0.6},"encoding":{"yError":{"field":"e"}}},
     {"mark":{"type":"point","filled":true,"size":10,"opacity":1}}
    ]}
  ],
  "resolve":{"scale":{"y":"independent"}}},

 {"width":104,"height":72,"title":{"text":"IL-15 - OP 50mg/kg"},
  "transform":[{"filter":"datum.p=='A4'"}],
  "encoding":{"x":{"field":"d","type":"quantitative","scale":{"domain":[0,80]},"axis":{"title":"Days MiaPaCa-eGFP Post Implantation","tickCount":16,"titleFontSize":7}},
   "color":{"field":"k","type":"nominal","scale":{"domain":["c","t","u"],"range":["#c0282d","#2b2ba0","#000000"]},"legend":{"title":null,"labelExpr":"datum.label=='c'?'IL-15 - OP 50mg/kg @ day 35':datum.label=='t'?'Tumor volume - OP 50mg/kg n=6':'untreated tumor volume'"}}},
  "layer":[
   {"transform":[{"filter":"datum.k!='t'&&datum.k!='u'"}],
    "encoding":{"y":{"field":"v","type":"quantitative","scale":{"domain":[0,1400]},"axis":{"orient":"left","title":"IL-15 (pg/mL)","tickCount":7,"format":"d"}}},
    "layer":[
     {"transform":[{"filter":"datum.k=='c'"}],"mark":{"type":"line","opacity":0.55,"strokeWidth":0.8}},
     {"transform":[{"filter":"datum.k=='c'"}],"mark":{"type":"errorbar","ticks":true,"thickness":0.6},"encoding":{"yError":{"field":"e"}}},
     {"transform":[{"filter":"datum.k=='c'"}],"mark":{"type":"point","filled":true,"size":10,"opacity":1}},
     {"transform":[{"filter":"datum.k=='a'"}],"mark":{"type":"point","shape":"arrow","filled":true,"size":20,"opacity":1},"encoding":{"color":{"value":"#c0282d"}}}
    ]},
   {"transform":[{"filter":"datum.k=='t'||datum.k=='u'"}],
    "encoding":{"y":{"field":"v","type":"quantitative","scale":{"domain":[0,1400]},"axis":{"orient":"right","title":"Tumor volume (mm³)","tickCount":7,"format":"d"}}},
    "layer":[
     {"mark":{"type":"line","opacity":0.5,"strokeWidth":0.8}},
     {"mark":{"type":"errorbar","ticks":true,"thickness":0.6},"encoding":{"yError":{"field":"e"}}},
     {"mark":{"type":"point","filled":true,"size":10,"opacity":1}}
    ]}
  ],
  "resolve":{"scale":{"y":"independent"}}},

 {"width":88,"height":72,"title":{"text":"IL-15 - OP 100 mg/kg"},
  "transform":[{"filter":"datum.p=='A5'"}],
  "encoding":{"x":{"field":"d","type":"quantitative","scale":{"domain":[0,70]},"axis":{"title":"Days MiaPaCa-eGFP Post Implantation","tickCount":14,"titleFontSize":7}},
   "color":{"field":"k","type":"nominal","scale":{"domain":["c","t","u"],"range":["#c0282d","#2b2ba0","#000000"]},"legend":{"title":null,"labelExpr":"datum.label=='c'?'IL-15 - OP 100mg/kg @ day 35':datum.label=='t'?'Tumor volume - OP 100mg/kg n=5':'untreated Tumour'"}}},
  "layer":[
   {"transform":[{"filter":"datum.k!='t'&&datum.k!='u'"}],
    "encoding":{"y":{"field":"v","type":"quantitative","scale":{"domain":[0,1400]},"axis":{"orient":"left","title":"IL-15 (pg/mL)","tickCount":7,"format":"d"}}},
    "layer":[
     {"transform":[{"filter":"datum.k=='c'"}],"mark":{"type":"line","opacity":0.55,"strokeWidth":0.8}},
     {"transform":[{"filter":"datum.k=='c'"}],"mark":{"type":"errorbar","ticks":true,"thickness":0.6},"encoding":{"yError":{"field":"e"}}},
     {"transform":[{"filter":"datum.k=='c'"}],"mark":{"type":"point","filled":true,"size":10,"opacity":1}},
     {"transform":[{"filter":"datum.k=='a'"}],"mark":{"type":"point","shape":"arrow","filled":true,"size":20,"opacity":1},"encoding":{"color":{"value":"#c0282d"}}}
    ]},
   {"transform":[{"filter":"datum.k=='t'||datum.k=='u'"}],
    "encoding":{"y":{"field":"v","type":"quantitative","scale":{"domain":[0,1400]},"axis":{"orient":"right","title":"Tumor volume (mm³)","tickCount":7,"format":"d"}}},
    "layer":[
     {"mark":{"type":"line","opacity":0.5,"strokeWidth":0.8}},
     {"mark":{"type":"errorbar","ticks":true,"thickness":0.6},"encoding":{"yError":{"field":"e"}}},
     {"mark":{"type":"point","filled":true,"size":10,"opacity":1}}
    ]}
  ],
  "resolve":{"scale":{"y":"independent"}}}
 ]},

{"title":{"text":"B","anchor":"start","fontSize":12,"offset":-4},
 "resolve":{"scale":{"color":"independent","x":"independent","y":"independent"}},
 "hconcat":[
 {"width":82,"height":72,"title":{"text":["Angiogenic Cytokine","Interleukin-18"]},
  "transform":[{"filter":"datum.p=='B1'"}],
  "encoding":{"x":{"field":"d","type":"quantitative","scale":{"domain":[0,60]},"axis":{"title":"Days Post MIA-PaCa2-eGFP Implantation","tickCount":12,"titleFontSize":5.5}},
   "color":{"field":"k","type":"nominal","scale":{"domain":["c","u"],"range":["#c0282d","#000000"]},"legend":{"title":null,"labelExpr":"datum.label=='c'?'IL-18 (n=24) mean ± SEM':'Tumor volume (n=16) mean ± SEM'"}}},
  "layer":[
   {"transform":[{"filter":"datum.k!='t'&&datum.k!='u'"}],
    "encoding":{"y":{"field":"v","type":"quantitative","scale":{"domain":[0,2800]},"axis":{"orient":"left","title":"IL-18 (pg/mL)","tickCount":7,"format":"d"}}},
    "layer":[
     {"transform":[{"filter":"datum.k=='c'"}],"mark":{"type":"line","opacity":0.55,"strokeWidth":0.8}},
     {"transform":[{"filter":"datum.k=='c'"}],"mark":{"type":"errorbar","ticks":true,"thickness":0.6},"encoding":{"yError":{"field":"e"}}},
     {"transform":[{"filter":"datum.k=='c'"}],"mark":{"type":"point","filled":true,"size":10,"opacity":1}},
     {"transform":[{"filter":"datum.k=='p'"}],"mark":{"type":"text","fontSize":6,"fontWeight":"bold","fontStyle":"italic"},"encoding":{"text":{"field":"lab"},"color":{"value":"#c0282d"}}}
    ]},
   {"transform":[{"filter":"datum.k=='t'||datum.k=='u'"}],
    "encoding":{"y":{"field":"v","type":"quantitative","scale":{"domain":[0,1200]},"axis":{"orient":"right","title":"Tumor volume (mm³)","tickCount":6,"format":"d","domainColor":"#000","tickColor":"#000","labelColor":"#000","titleColor":"#000"}}},
    "layer":[
     {"mark":{"type":"line","opacity":0.5,"strokeWidth":0.8}},
     {"mark":{"type":"errorbar","ticks":true,"thickness":0.6},"encoding":{"yError":{"field":"e"}}},
     {"mark":{"type":"point","filled":true,"size":10,"opacity":1}}
    ]}
  ],
  "resolve":{"scale":{"y":"independent"}}},

 {"width":106,"height":72,"title":{"text":"IL-18 - OP 2mg/kg"},
  "transform":[{"filter":"datum.p=='B2'"}],
  "encoding":{"x":{"field":"d","type":"quantitative","scale":{"domain":[0,80]},"axis":{"title":"Days Post MIA-PaCa2-eGFP Implantation","tickCount":16}},
   "color":{"field":"k","type":"nominal","scale":{"domain":["c","t","u"],"range":["#c0282d","#2b2ba0","#000000"]},"legend":{"title":null,"labelExpr":"datum.label=='c'?'IL-18 OP 2mg/kg n = 6':datum.label=='t'?'Tumor volume OP 2mg/kg':'Untreated control'"}}},
  "layer":[
   {"transform":[{"filter":"datum.k!='t'&&datum.k!='u'"}],
    "encoding":{"y":{"field":"v","type":"quantitative","scale":{"domain":[0,2600]},"axis":{"orient":"left","title":"IL-18 (pg/mL)","tickCount":13,"format":"d"}}},
    "layer":[
     {"transform":[{"filter":"datum.k=='c'"}],"mark":{"type":"line","opacity":0.55,"strokeWidth":0.8}},
     {"transform":[{"filter":"datum.k=='c'"}],"mark":{"type":"errorbar","ticks":true,"thickness":0.6},"encoding":{"yError":{"field":"e"}}},
     {"transform":[{"filter":"datum.k=='c'"}],"mark":{"type":"point","filled":true,"size":10,"opacity":1}},
     {"transform":[{"filter":"datum.k=='a'"}],"mark":{"type":"point","shape":"arrow","filled":true,"size":20,"opacity":1},"encoding":{"color":{"value":"#c0282d"}}}
    ]},
   {"transform":[{"filter":"datum.k=='t'||datum.k=='u'"}],
    "encoding":{"y":{"field":"v","type":"quantitative","scale":{"domain":[0,1200]},"axis":{"orient":"right","title":"Tumor volume (mm³)","tickCount":6,"format":"d"}}},
    "layer":[
     {"mark":{"type":"line","opacity":0.5,"strokeWidth":0.8}},
     {"mark":{"type":"errorbar","ticks":true,"thickness":0.6},"encoding":{"yError":{"field":"e"}}},
     {"mark":{"type":"point","filled":true,"size":10,"opacity":1}}
    ]}
  ],
  "resolve":{"scale":{"y":"independent"}}},

 {"width":106,"height":72,"title":{"text":"IL-18 - OP 10mg/kg"},
  "transform":[{"filter":"datum.p=='B3'"}],
  "encoding":{"x":{"field":"d","type":"quantitative","scale":{"domain":[0,80]},"axis":{"title":"Days Post MIA-PaCa2-eGFP Implantation","tickCount":16}},
   "color":{"field":"k","type":"nominal","scale":{"domain":["c","t","u"],"range":["#c0282d","#2b2ba0","#000000"]},"legend":{"title":null,"labelExpr":"datum.label=='c'?'IL-18 OP 10mg/kg n = 6':datum.label=='t'?'Tumor volume OP 10mg/kg':'Untreated control'"}}},
  "layer":[
   {"transform":[{"filter":"datum.k!='t'&&datum.k!='u'"}],
    "encoding":{"y":{"field":"v","type":"quantitative","scale":{"domain":[0,2600]},"axis":{"orient":"left","title":"IL-18 (pg/mL)","tickCount":13,"format":"d"}}},
    "layer":[
     {"transform":[{"filter":"datum.k=='c'"}],"mark":{"type":"line","opacity":0.55,"strokeWidth":0.8}},
     {"transform":[{"filter":"datum.k=='c'"}],"mark":{"type":"errorbar","ticks":true,"thickness":0.6},"encoding":{"yError":{"field":"e"}}},
     {"transform":[{"filter":"datum.k=='c'"}],"mark":{"type":"point","filled":true,"size":10,"opacity":1}},
     {"transform":[{"filter":"datum.k=='a'"}],"mark":{"type":"point","shape":"arrow","filled":true,"size":20,"opacity":1},"encoding":{"color":{"value":"#c0282d"}}}
    ]},
   {"transform":[{"filter":"datum.k=='t'||datum.k=='u'"}],
    "encoding":{"y":{"field":"v","type":"quantitative","scale":{"domain":[0,1200]},"axis":{"orient":"right","title":"Tumor volume (mm³)","tickCount":6,"format":"d"}}},
    "layer":[
     {"mark":{"type":"line","opacity":0.5,"strokeWidth":0.8}},
     {"mark":{"type":"errorbar","ticks":true,"thickness":0.6},"encoding":{"yError":{"field":"e"}}},
     {"mark":{"type":"point","filled":true,"size":10,"opacity":1}}
    ]}
  ],
  "resolve":{"scale":{"y":"independent"}}},

 {"width":104,"height":72,"title":{"text":"IL-18 - 50mg/kg"},
  "transform":[{"filter":"datum.p=='B4'"}],
  "encoding":{"x":{"field":"d","type":"quantitative","scale":{"domain":[0,80]},"axis":{"title":"Days Post MIA-PaCa2-eGFP Implantation","tickCount":16}},
   "color":{"field":"k","type":"nominal","scale":{"domain":["c","t","u"],"range":["#c0282d","#2b2ba0","#000000"]},"legend":{"title":null,"labelExpr":"datum.label=='c'?'IL-18  OP 50mg/kg n = 6':datum.label=='t'?'Tumor volume OP 50mg/kg':'Untreated control'"}}},
  "layer":[
   {"transform":[{"filter":"datum.k!='t'&&datum.k!='u'"}],
    "encoding":{"y":{"field":"v","type":"quantitative","scale":{"domain":[0,2600]},"axis":{"orient":"left","title":"IL-18 (pg/mL)","tickCount":13,"format":"d"}}},
    "layer":[
     {"transform":[{"filter":"datum.k=='c'"}],"mark":{"type":"line","opacity":0.55,"strokeWidth":0.8}},
     {"transform":[{"filter":"datum.k=='c'"}],"mark":{"type":"errorbar","ticks":true,"thickness":0.6},"encoding":{"yError":{"field":"e"}}},
     {"transform":[{"filter":"datum.k=='c'"}],"mark":{"type":"point","filled":true,"size":10,"opacity":1}},
     {"transform":[{"filter":"datum.k=='a'"}],"mark":{"type":"point","shape":"arrow","filled":true,"size":20,"opacity":1},"encoding":{"color":{"value":"#c0282d"}}}
    ]},
   {"transform":[{"filter":"datum.k=='t'||datum.k=='u'"}],
    "encoding":{"y":{"field":"v","type":"quantitative","scale":{"domain":[0,1200]},"axis":{"orient":"right","title":"Tumor volume (mm³)","tickCount":6,"format":"d"}}},
    "layer":[
     {"mark":{"type":"line","opacity":0.5,"strokeWidth":0.8}},
     {"mark":{"type":"errorbar","ticks":true,"thickness":0.6},"encoding":{"yError":{"field":"e"}}},
     {"mark":{"type":"point","filled":true,"size":10,"opacity":1}}
    ]}
  ],
  "resolve":{"scale":{"y":"independent"}}},

 {"width":96,"height":72,"title":{"text":"IL-18 - OP 100mg/kg"},
  "transform":[{"filter":"datum.p=='B5'"}],
  "encoding":{"x":{"field":"d","type":"quantitative","scale":{"domain":[0,80]},"axis":{"title":"Days Post MIA-PaCa2-eGFP Implantation","tickCount":16}},
   "color":{"field":"k","type":"nominal","scale":{"domain":["c","t","u"],"range":["#c0282d","#2b2ba0","#000000"]},"legend":{"title":null,"labelExpr":"datum.label=='c'?'IL-18  OP 100mg/kg n = 6':datum.label=='t'?'Tumor volume OP 100mg/kg':'Untreated control'"}}},
  "layer":[
   {"transform":[{"filter":"datum.k!='t'&&datum.k!='u'"}],
    "encoding":{"y":{"field":"v","type":"quantitative","scale":{"domain":[0,2600]},"axis":{"orient":"left","title":"IL-18 (pg/mL)","tickCount":13,"format":"d"}}},
    "layer":[
     {"transform":[{"filter":"datum.k=='c'"}],"mark":{"type":"line","opacity":0.55,"strokeWidth":0.8}},
     {"transform":[{"filter":"datum.k=='c'"}],"mark":{"type":"errorbar","ticks":true,"thickness":0.6},"encoding":{"yError":{"field":"e"}}},
     {"transform":[{"filter":"datum.k=='c'"}],"mark":{"type":"point","filled":true,"size":10,"opacity":1}},
     {"transform":[{"filter":"datum.k=='a'"}],"mark":{"type":"point","shape":"arrow","filled":true,"size":20,"opacity":1},"encoding":{"color":{"value":"#c0282d"}}}
    ]},
   {"transform":[{"filter":"datum.k=='t'||datum.k=='u'"}],
    "encoding":{"y":{"field":"v","type":"quantitative","scale":{"domain":[0,1200]},"axis":{"orient":"right","title":"Tumor volume (mm³)","tickCount":6,"format":"d"}}},
    "layer":[
     {"mark":{"type":"line","opacity":0.5,"strokeWidth":0.8}},
     {"mark":{"type":"errorbar","ticks":true,"thickness":0.6},"encoding":{"yError":{"field":"e"}}},
     {"mark":{"type":"point","filled":true,"size":10,"opacity":1}}
    ]}
  ],
  "resolve":{"scale":{"y":"independent"}}}
 ]},

{"title":{"text":"C","anchor":"start","fontSize":12,"offset":-4},
 "resolve":{"scale":{"color":"independent","x":"independent","y":"independent"}},
 "hconcat":[
 {"width":82,"height":72,"title":{"text":"Hematopoietic growth factor","fontWeight":"normal","subtitle":"Macrophage colony-stimulating factor"},
  "transform":[{"filter":"datum.p=='C1'"}],
  "encoding":{"x":{"field":"d","type":"quantitative","scale":{"domain":[0,60]},"axis":{"title":"Days MiaPaCa-eGFP Post Implantation","tickCount":12,"titleFontSize":5.5}},
   "color":{"field":"k","type":"nominal","scale":{"domain":["c","t"],"range":["#c0282d","#1f2ad6"]},"legend":{"title":null,"labelExpr":"datum.label=='c'?'M-CSF':'Tumor vol'"}}},
  "layer":[
   {"transform":[{"filter":"datum.k!='t'&&datum.k!='u'"}],
    "encoding":{"y":{"field":"v","type":"quantitative","scale":{"domain":[0,2000]},"axis":{"orient":"left","title":"M-CSF (pg/mL)","tickCount":4,"format":"d"}}},
    "layer":[
     {"transform":[{"filter":"datum.k=='c'"}],"mark":{"type":"line","opacity":0.55,"strokeWidth":0.8}},
     {"transform":[{"filter":"datum.k=='c'"}],"mark":{"type":"errorbar","ticks":true,"thickness":0.6},"encoding":{"yError":{"field":"e"}}},
     {"transform":[{"filter":"datum.k=='c'"}],"mark":{"type":"point","filled":true,"size":10,"opacity":1}},
     {"transform":[{"filter":"datum.k=='p'"}],"mark":{"type":"text","fontSize":6,"fontWeight":"bold","fontStyle":"italic"},"encoding":{"text":{"field":"lab"},"color":{"value":"#c0282d"}}}
    ]},
   {"transform":[{"filter":"datum.k=='t'||datum.k=='u'"}],
    "encoding":{"y":{"field":"v","type":"quantitative","scale":{"domain":[0,1200]},"axis":{"orient":"right","title":"Tumor volume (mm³)","tickCount":6,"format":"d","domainColor":"#000","tickColor":"#000","labelColor":"#000","titleColor":"#000"}}},
    "layer":[
     {"mark":{"type":"line","opacity":0.5,"strokeWidth":0.8}},
     {"mark":{"type":"errorbar","ticks":true,"thickness":0.6},"encoding":{"yError":{"field":"e"}}},
     {"mark":{"type":"point","filled":true,"size":10,"opacity":1}}
    ]}
  ],
  "resolve":{"scale":{"y":"independent"}}},

 {"width":106,"height":72,"title":{"text":"M-CSF - OP 2mg/kg"},
  "transform":[{"filter":"datum.p=='C2'"}],
  "encoding":{"x":{"field":"d","type":"quantitative","scale":{"domain":[0,80]},"axis":{"title":"Days MiaPaCa-eGFP Post Implantation","tickCount":16,"titleFontSize":8}},
   "color":{"field":"k","type":"nominal","scale":{"domain":["c","t","u"],"range":["#c0282d","#2b2ba0","#000000"]},"legend":{"title":null,"labelExpr":"datum.label=='c'?'M-CSF OP 2mg/kg n = 6':datum.label=='t'?'Tumor volume OP 2mg/kg':'Untreated control'"}}},
  "layer":[
   {"transform":[{"filter":"datum.k!='t'&&datum.k!='u'"}],
    "encoding":{"y":{"field":"v","type":"quantitative","scale":{"domain":[0,2500]},"axis":{"orient":"left","title":"M-CSF (pg/mL)","tickCount":5,"format":"d"}}},
    "layer":[
     {"transform":[{"filter":"datum.k=='c'"}],"mark":{"type":"line","opacity":0.55,"strokeWidth":0.8}},
     {"transform":[{"filter":"datum.k=='c'"}],"mark":{"type":"errorbar","ticks":true,"thickness":0.6},"encoding":{"yError":{"field":"e"}}},
     {"transform":[{"filter":"datum.k=='c'"}],"mark":{"type":"point","filled":true,"size":10,"opacity":1}},
     {"transform":[{"filter":"datum.k=='a'"}],"mark":{"type":"point","shape":"arrow","filled":true,"size":20,"opacity":1},"encoding":{"color":{"value":"#c0282d"}}}
    ]},
   {"transform":[{"filter":"datum.k=='t'||datum.k=='u'"}],
    "encoding":{"y":{"field":"v","type":"quantitative","scale":{"domain":[0,1200]},"axis":{"orient":"right","title":"Tumor volume (mm³)","tickCount":6,"format":"d"}}},
    "layer":[
     {"mark":{"type":"line","opacity":0.5,"strokeWidth":0.8}},
     {"mark":{"type":"errorbar","ticks":true,"thickness":0.6},"encoding":{"yError":{"field":"e"}}},
     {"mark":{"type":"point","filled":true,"size":10,"opacity":1}}
    ]}
  ],
  "resolve":{"scale":{"y":"independent"}}},

 {"width":106,"height":72,"title":{"text":"M-CSF - OP 10mg/kg"},
  "transform":[{"filter":"datum.p=='C3'"}],
  "encoding":{"x":{"field":"d","type":"quantitative","scale":{"domain":[0,80]},"axis":{"title":"Days MiaPaCa-eGFP Post Implantation","tickCount":16}},
   "color":{"field":"k","type":"nominal","scale":{"domain":["c","t","u"],"range":["#c0282d","#2b2ba0","#000000"]},"legend":{"title":null,"labelExpr":"datum.label=='c'?'M-CSF - OP 10mg/kg n = 6':datum.label=='t'?'Tumor volume OP 10mg/kg':'Untreated control'"}}},
  "layer":[
   {"transform":[{"filter":"datum.k!='t'&&datum.k!='u'"}],
    "encoding":{"y":{"field":"v","type":"quantitative","scale":{"domain":[0,2500]},"axis":{"orient":"left","title":"M-CSF (pg/mL)","tickCount":5,"format":"d"}}},
    "layer":[
     {"transform":[{"filter":"datum.k=='c'"}],"mark":{"type":"line","opacity":0.55,"strokeWidth":0.8}},
     {"transform":[{"filter":"datum.k=='c'"}],"mark":{"type":"errorbar","ticks":true,"thickness":0.6},"encoding":{"yError":{"field":"e"}}},
     {"transform":[{"filter":"datum.k=='c'"}],"mark":{"type":"point","filled":true,"size":10,"opacity":1}},
     {"transform":[{"filter":"datum.k=='a'"}],"mark":{"type":"point","shape":"arrow","filled":true,"size":20,"opacity":1},"encoding":{"color":{"value":"#c0282d"}}}
    ]},
   {"transform":[{"filter":"datum.k=='t'||datum.k=='u'"}],
    "encoding":{"y":{"field":"v","type":"quantitative","scale":{"domain":[0,1200]},"axis":{"orient":"right","title":"Tumor volume (mm³)","tickCount":6,"format":"d"}}},
    "layer":[
     {"mark":{"type":"line","opacity":0.5,"strokeWidth":0.8}},
     {"mark":{"type":"errorbar","ticks":true,"thickness":0.6},"encoding":{"yError":{"field":"e"}}},
     {"mark":{"type":"point","filled":true,"size":10,"opacity":1}}
    ]}
  ],
  "resolve":{"scale":{"y":"independent"}}},

 {"width":104,"height":72,"title":{"text":"M-CSF - OP 50mg/kg"},
  "transform":[{"filter":"datum.p=='C4'"}],
  "encoding":{"x":{"field":"d","type":"quantitative","scale":{"domain":[0,80]},"axis":{"title":"Days MiaPaCa-eGFP Post Implantation","tickCount":16}},
   "color":{"field":"k","type":"nominal","scale":{"domain":["c","t","u"],"range":["#c0282d","#2b2ba0","#000000"]},"legend":{"title":null,"labelExpr":"datum.label=='c'?'M-CSF OP 50mg/kg n = 6':datum.label=='t'?'Tumor vol OP 50mg/kg':'Untreated control'"}}},
  "layer":[
   {"transform":[{"filter":"datum.k!='t'&&datum.k!='u'"}],
    "encoding":{"y":{"field":"v","type":"quantitative","scale":{"domain":[0,2500]},"axis":{"orient":"left","title":"M-CSF (pg/mL)","tickCount":5,"format":"d"}}},
    "layer":[
     {"transform":[{"filter":"datum.k=='c'"}],"mark":{"type":"line","opacity":0.55,"strokeWidth":0.8}},
     {"transform":[{"filter":"datum.k=='c'"}],"mark":{"type":"errorbar","ticks":true,"thickness":0.6},"encoding":{"yError":{"field":"e"}}},
     {"transform":[{"filter":"datum.k=='c'"}],"mark":{"type":"point","filled":true,"size":10,"opacity":1}},
     {"transform":[{"filter":"datum.k=='a'"}],"mark":{"type":"point","shape":"arrow","filled":true,"size":20,"opacity":1},"encoding":{"color":{"value":"#c0282d"}}}
    ]},
   {"transform":[{"filter":"datum.k=='t'||datum.k=='u'"}],
    "encoding":{"y":{"field":"v","type":"quantitative","scale":{"domain":[0,1200]},"axis":{"orient":"right","title":"Tumor volume (mm³)","tickCount":6,"format":"d"}}},
    "layer":[
     {"mark":{"type":"line","opacity":0.5,"strokeWidth":0.8}},
     {"mark":{"type":"errorbar","ticks":true,"thickness":0.6},"encoding":{"yError":{"field":"e"}}},
     {"mark":{"type":"point","filled":true,"size":10,"opacity":1}}
    ]}
  ],
  "resolve":{"scale":{"y":"independent"}}},

 {"width":96,"height":72,"title":{"text":"M-CSF - OP 100mg/kg"},
  "transform":[{"filter":"datum.p=='C5'"}],
  "encoding":{"x":{"field":"d","type":"quantitative","scale":{"domain":[0,80]},"axis":{"title":"Days MiaPaCa-eGFP Post Implantation","tickCount":16}},
   "color":{"field":"k","type":"nominal","scale":{"domain":["c","t","u"],"range":["#c0282d","#2b2ba0","#000000"]},"legend":{"title":null,"labelExpr":"datum.label=='c'?'M-CSF - OP 100mg/kg n = 6':datum.label=='t'?'Tumor vol OP 100mg/kg':'Untreated control'"}}},
  "layer":[
   {"transform":[{"filter":"datum.k!='t'&&datum.k!='u'"}],
    "encoding":{"y":{"field":"v","type":"quantitative","scale":{"domain":[0,2500]},"axis":{"orient":"left","title":"M-CSF (pg/mL)","tickCount":5,"format":"d"}}},
    "layer":[
     {"transform":[{"filter":"datum.k=='c'"}],"mark":{"type":"line","opacity":0.55,"strokeWidth":0.8}},
     {"transform":[{"filter":"datum.k=='c'"}],"mark":{"type":"errorbar","ticks":true,"thickness":0.6},"encoding":{"yError":{"field":"e"}}},
     {"transform":[{"filter":"datum.k=='c'"}],"mark":{"type":"point","filled":true,"size":10,"opacity":1}},
     {"transform":[{"filter":"datum.k=='a'"}],"mark":{"type":"point","shape":"arrow","filled":true,"size":20,"opacity":1},"encoding":{"color":{"value":"#c0282d"}}}
    ]},
   {"transform":[{"filter":"datum.k=='t'||datum.k=='u'"}],
    "encoding":{"y":{"field":"v","type":"quantitative","scale":{"domain":[0,1200]},"axis":{"orient":"right","title":"Tumor volume (mm³)","tickCount":6,"format":"d"}}},
    "layer":[
     {"mark":{"type":"line","opacity":0.5,"strokeWidth":0.8}},
     {"mark":{"type":"errorbar","ticks":true,"thickness":0.6},"encoding":{"yError":{"field":"e"}}},
     {"mark":{"type":"point","filled":true,"size":10,"opacity":1}}
    ]}
  ],
  "resolve":{"scale":{"y":"independent"}}}
 ]}
]
}
